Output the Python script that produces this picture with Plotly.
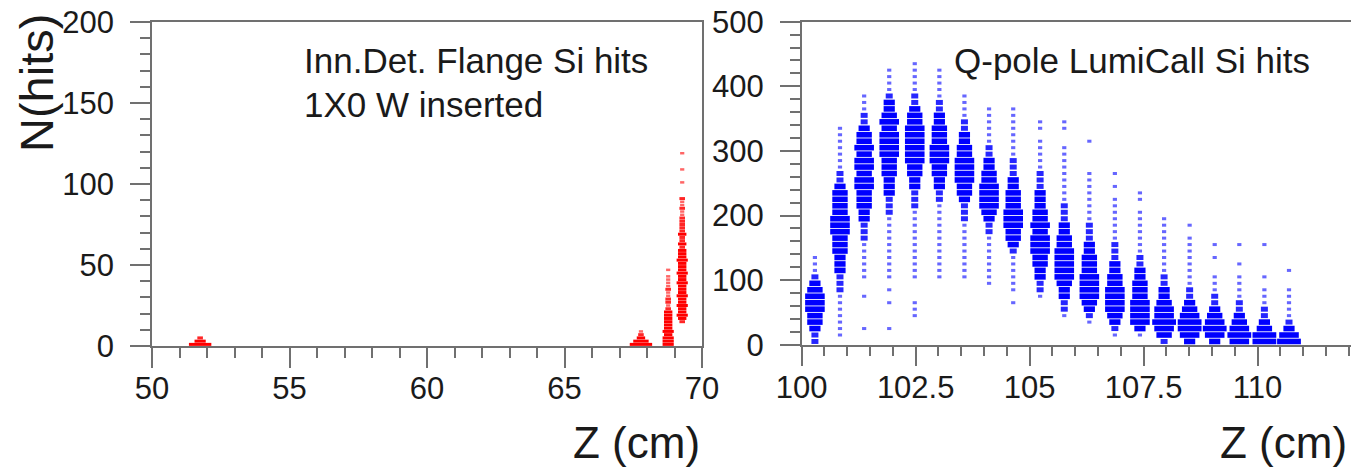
import plotly.graph_objects as go

# ---------------- data: left panel (Inn.Det. Flange), red ----------------
FLANGE_Z = [51.75, 67.78, 68.77, 69.28]
FLANGE_Y_START = [0, 0, 0, 14]
FLANGE_STEP = 2
FLANGE_LEVELS_1 = [6, 4, 2]
FLANGE_LEVELS_2 = [6, 5, 3, 2, 1]
FLANGE_LEVELS_3 = [4, 4, 4, 3, 4, 3, 3, 3, 3, 3, 3, 2, 1, 2, 2, 1, 1, 2, 1, 1, 1, 1, 0, 1]
FLANGE_LEVELS_4 = [2, 3, 4, 3, 3, 4, 3, 3, 4, 3, 3, 3, 4, 3, 3, 4, 3, 3, 3, 4, 3, 3, 3,
                   2, 3, 2, 2, 3, 2, 2, 2, 2, 2, 1, 1, 2, 1, 1, 2,
                   0, 0, 0, 0, 1, 0, 0, 0, 1, 0, 0, 0, 0, 1]

# ---------------- data: right panel (Q-pole LumiCal), blue ----------------
QPOLE_Z = [100.29, 100.84, 101.37, 101.92, 102.48, 103.02, 103.57, 104.11, 104.64, 105.23,
           105.76, 106.31, 106.87, 107.42, 107.95, 108.51, 109.06, 109.60, 110.15, 110.69]
QPOLE_Y_START = [0, 10, 20, 20, 40, 100, 100, 90, 60, 70,
                 40, 30, 10, 10, 0, 0, 0, 0, 0, 0]
QPOLE_STEP = 10
QPOLE_LEVELS_01 = [2, 2, 3, 4, 4, 5, 5, 5, 4, 3, 2, 1, 1, 1]
QPOLE_LEVELS_02 = [1, 1, 1, 1, 1, 1, 1, 2, 2, 2, 3, 3, 3, 4, 4, 4, 5, 5, 5, 4, 4, 4, 4, 3, 2, 2,
                   1, 1, 1, 1, 1, 1, 1]
QPOLE_LEVELS_03 = [1, 0, 0, 0, 0, 1, 0, 0, 1, 1, 1, 1, 1, 1, 2, 2, 2, 3, 3, 4, 4, 4, 5, 5, 4, 5,
                   5, 4, 5, 4, 4, 3, 2, 2, 1, 1, 1]
QPOLE_LEVELS_04 = [1, 0, 0, 0, 1, 0, 1, 0, 1, 1, 1, 1, 1, 1, 1, 1, 1, 1, 2, 2, 2, 3, 3, 3, 4, 4,
                   4, 5, 5, 5, 5, 4, 5, 4, 3, 3, 2, 1, 1, 1, 1]
QPOLE_LEVELS_05 = [1, 1, 1, 0, 0, 0, 1, 1, 1, 1, 1, 1, 1, 1, 1, 1, 1, 2, 2, 2, 3, 3, 4, 4, 5, 5,
                   5, 5, 5, 5, 4, 4, 3, 2, 2, 1, 1, 1, 1, 1]
QPOLE_LEVELS_06 = [1, 1, 1, 1, 1, 1, 1, 1, 1, 1, 1, 1, 2, 2, 3, 3, 4, 4, 5, 5, 5, 4, 4, 4, 3, 3,
                   2, 2, 1, 1, 1, 1, 1]
QPOLE_LEVELS_07 = [1, 1, 1, 1, 1, 1, 1, 1, 1, 2, 2, 2, 3, 4, 4, 5, 5, 5, 5, 4, 4, 3, 3, 2, 2,
                   1, 1, 1, 1]
QPOLE_LEVELS_08 = [1, 1, 1, 1, 1, 1, 1, 1, 2, 2, 3, 4, 5, 5, 5, 5, 4, 4, 3, 3, 2, 2,
                   1, 1, 1, 1, 1, 1]
QPOLE_LEVELS_09 = [1, 0, 1, 1, 1, 1, 1, 1, 2, 3, 4, 4, 5, 5, 5, 4, 4, 4, 3, 3, 2, 2, 2,
                   1, 1, 1, 1, 1, 1, 1, 1]
QPOLE_LEVELS_10 = [1, 2, 2, 3, 3, 4, 4, 5, 5, 5, 4, 5, 4, 4, 3, 3, 3, 2, 2, 2, 1, 1, 1, 1, 1, 0, 1, 1]
QPOLE_LEVELS_11 = [1, 2, 2, 3, 3, 4, 5, 5, 5, 5, 5, 4, 4, 3, 3, 2, 2, 2, 1, 1, 1, 1, 1, 1, 1, 1,
                   1, 0, 0, 1, 1]
QPOLE_LEVELS_12 = [1, 2, 3, 4, 5, 5, 5, 5, 4, 4, 4, 3, 3, 2, 2, 2, 1, 1, 1, 1, 1, 1, 1, 1, 0, 0, 0, 0, 1]
QPOLE_LEVELS_13 = [1, 2, 3, 4, 5, 5, 5, 5, 4, 4, 3, 3, 2, 2, 2, 1, 1, 1, 1, 1, 1, 1, 0, 1, 0, 1]
QPOLE_LEVELS_14 = [1, 3, 5, 5, 5, 5, 4, 4, 4, 3, 3, 2, 2, 1, 1, 1, 1, 1, 1, 1, 0, 1, 1]
QPOLE_LEVELS_15 = [2, 4, 5, 6, 5, 5, 4, 3, 3, 2, 2, 1, 1, 1, 1, 1, 1, 1, 1, 1]
QPOLE_LEVELS_16 = [3, 5, 6, 6, 5, 4, 3, 2, 2, 1, 1, 1, 1, 1, 1, 1, 1, 0, 1]
QPOLE_LEVELS_17 = [3, 5, 6, 5, 4, 3, 2, 2, 1, 1, 1, 0, 0, 1, 0, 1]
QPOLE_LEVELS_18 = [5, 6, 5, 4, 3, 2, 2, 1, 1, 1, 1, 0, 1, 0, 0, 1]
QPOLE_LEVELS_19 = [6, 6, 4, 3, 2, 2, 1, 1, 1, 0, 1, 0, 0, 0, 0, 1]
QPOLE_LEVELS_20 = [6, 5, 3, 2, 1, 1, 1, 1, 1, 0, 0, 1]

FLANGE_LEVELS = [FLANGE_LEVELS_1, FLANGE_LEVELS_2, FLANGE_LEVELS_3, FLANGE_LEVELS_4]
QPOLE_LEVELS = [QPOLE_LEVELS_01, QPOLE_LEVELS_02, QPOLE_LEVELS_03, QPOLE_LEVELS_04,
                QPOLE_LEVELS_05, QPOLE_LEVELS_06, QPOLE_LEVELS_07, QPOLE_LEVELS_08,
                QPOLE_LEVELS_09, QPOLE_LEVELS_10, QPOLE_LEVELS_11, QPOLE_LEVELS_12,
                QPOLE_LEVELS_13, QPOLE_LEVELS_14, QPOLE_LEVELS_15, QPOLE_LEVELS_16,
                QPOLE_LEVELS_17, QPOLE_LEVELS_18, QPOLE_LEVELS_19, QPOLE_LEVELS_20]

X_TICKS_LEFT = [50, 55, 60, 65, 70]
X_TICKS_RIGHT = [100, 102.5, 105, 107.5, 110]

# ---------------- styling ----------------
FONT = "Liberation Sans, Arial, Helvetica, sans-serif"
TXT = "#1a1a1a"
AX = "#707070"
W, H = 1351, 474


def build(zs, starts, levels, step, len_map, thick_map, rgb, alpha_map):
    xs, ys, sz, lw, col = [], [], [], [], []
    for z, y0, lv in zip(zs, starts, levels):
        for i, l in enumerate(lv):
            if l <= 0:
                continue
            xs.append(z)
            ys.append(y0 + step * i + step / 2)
            sz.append(len_map[l])
            lw.append(thick_map[l])
            col.append("rgba(%d,%d,%d,%.2f)" % (rgb[0], rgb[1], rgb[2], alpha_map[l]))
    return xs, ys, sz, lw, col


fx, fy, fs, flw, fc = build(FLANGE_Z, FLANGE_Y_START, FLANGE_LEVELS, FLANGE_STEP,
                            {1: 3, 2: 4, 3: 6, 4: 8, 5: 11, 6: 16},
                            {1: 2.5, 2: 3, 3: 3, 4: 3, 5: 3, 6: 3},
                            (255, 0, 0), {1: 0.6, 2: 0.85, 3: 1, 4: 1, 5: 1, 6: 1})
qx, qy, qs, qlw, qc = build(QPOLE_Z, QPOLE_Y_START, QPOLE_LEVELS, QPOLE_STEP,
                            {1: 3, 2: 5, 3: 8, 4: 11, 5: 14, 6: 17},
                            {1: 3, 2: 5, 3: 5.6, 4: 5.6, 5: 5.6, 6: 5.6},
                            (0, 0, 255), {1: 0.6, 2: 0.85, 3: 1, 4: 1, 5: 1, 6: 1})

fig = go.Figure()
fig.add_trace(go.Scatter(x=fx, y=fy, mode="markers", xaxis="x", yaxis="y",
                         marker=dict(symbol="line-ew", size=fs, opacity=1,
                                     line=dict(width=flw, color=fc)),
                         hoverinfo="skip", showlegend=False, cliponaxis=False))
fig.add_trace(go.Scatter(x=qx, y=qy, mode="markers", xaxis="x2", yaxis="y2",
                         marker=dict(symbol="line-ew", size=qs, opacity=1,
                                     line=dict(width=qlw, color=qc)),
                         hoverinfo="skip", showlegend=False, cliponaxis=False))


def axis(domain, rng, dtick, minor_dtick, anchor, tickvals=None, standoff=6):
    d = dict(domain=domain, range=rng, anchor=anchor, showgrid=False, zeroline=False,
             showline=True, linecolor=AX, linewidth=1.5, mirror=True, automargin=False,
             ticks="outside", ticklen=20, tickwidth=1.5, tickcolor=AX,
             tickfont=dict(family=FONT, size=31, color=TXT),
             minor=dict(dtick=minor_dtick, ticks="outside", ticklen=10,
                        tickwidth=1.5, tickcolor=AX, showgrid=False),
             ticklabelstandoff=standoff, fixedrange=True)
    if tickvals is not None:
        d.update(tickmode="array", tickvals=tickvals, ticktext=[("%g" % v) for v in tickvals])
    else:
        d.update(tick0=0, dtick=dtick)
    return d


px2x = lambda p: p / W
py2y = lambda p: 1 - p / H

fig.update_layout(
    width=W, height=H,
    margin=dict(l=0, r=0, t=0, b=0, autoexpand=False),
    paper_bgcolor="white", plot_bgcolor="white",
    xaxis=axis([px2x(152), px2x(702)], [50, 70], 5, 1, "y", X_TICKS_LEFT, -6),
    yaxis=axis([py2y(346), py2y(22)], [0, 200], 50, 10, "x", None, 10),
    xaxis2=axis([px2x(801.7), 1.0], [100, 112.05], 2.5, 0.5, "y2", X_TICKS_RIGHT, -6),
    yaxis2=axis([py2y(344.7), py2y(21.7)], [0, 500], 100, 20, "x2", None, 10),
    annotations=[
        dict(text="Inn.Det. Flange Si hits", x=px2x(302), y=py2y(60), xref="paper", yref="paper",
             xanchor="left", yanchor="middle", showarrow=False,
             font=dict(family=FONT, size=35, color=TXT)),
        dict(text="1X0 W inserted", x=px2x(302), y=py2y(104), xref="paper", yref="paper",
             xanchor="left", yanchor="middle", showarrow=False,
             font=dict(family=FONT, size=35, color=TXT)),
        dict(text="Q-pole LumiCall Si hits", x=px2x(952), y=py2y(60), xref="paper", yref="paper",
             xanchor="left", yanchor="middle", showarrow=False,
             font=dict(family=FONT, size=35, color=TXT)),
        dict(text="N(hits)", x=px2x(37), y=py2y(83), xref="paper", yref="paper",
             xanchor="center", yanchor="middle", textangle=-90, showarrow=False,
             font=dict(family=FONT, size=47, color=TXT)),
        dict(text="Z (cm)", x=px2x(702), y=py2y(442), xref="paper", yref="paper",
             xanchor="right", yanchor="middle", showarrow=False,
             font=dict(family=FONT, size=44, color=TXT)),
        dict(text="Z (cm)", x=px2x(1349), y=py2y(442), xref="paper", yref="paper",
             xanchor="right", yanchor="middle", showarrow=False,
             font=dict(family=FONT, size=44, color=TXT)),
    ],
)

fig.write_html("out.html")
